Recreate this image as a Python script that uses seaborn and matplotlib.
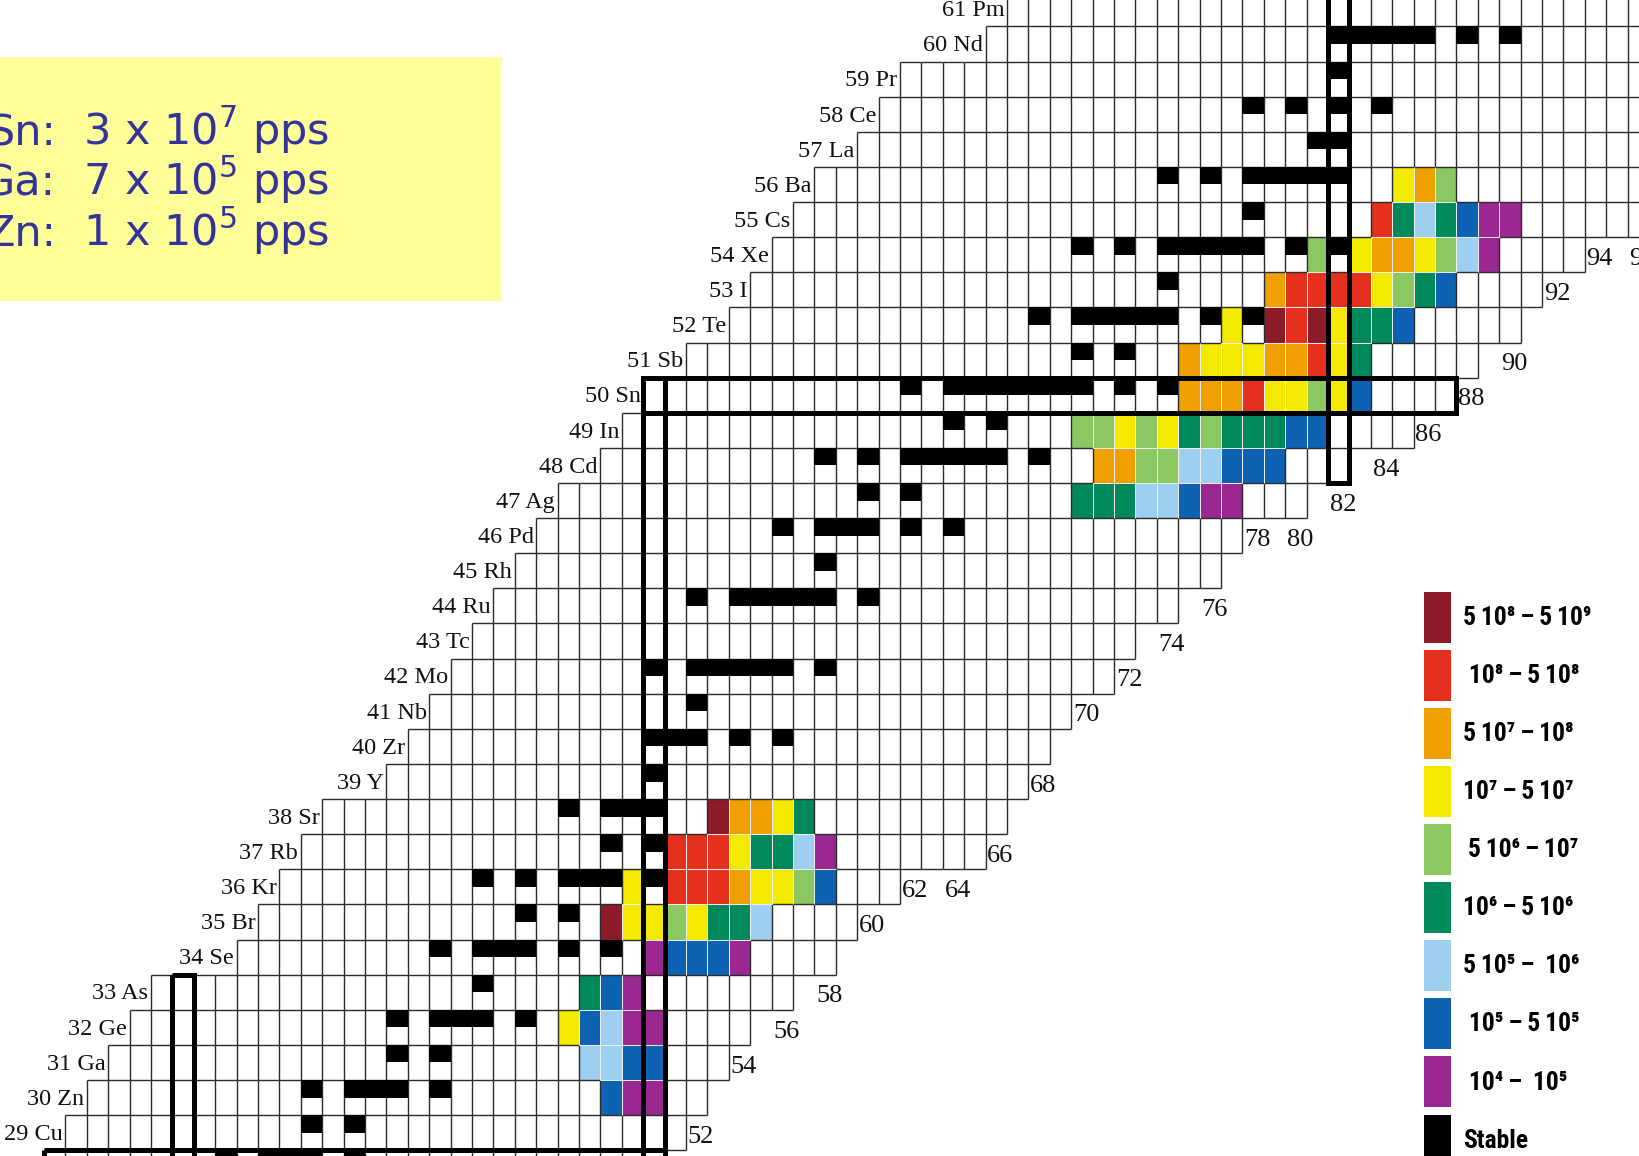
import numpy as np
import pandas as pd
import matplotlib
matplotlib.use("Agg")
import matplotlib.pyplot as plt
from matplotlib.colors import ListedColormap
from matplotlib.patches import Rectangle, Patch
from matplotlib.collections import LineCollection
from matplotlib.font_manager import FontProperties
import seaborn as sns

# ---- elements shown (proton number, symbol) and neutron range of each row ----
z_values = list(range(28, 62))
symbols = ["Ni", "Cu", "Zn", "Ga", "Ge", "As", "Se", "Br", "Kr", "Rb", "Sr", "Y",
           "Zr", "Nb", "Mo", "Tc", "Ru", "Rh", "Pd", "Ag", "Cd", "In", "Sn", "Sb",
           "Te", "I", "Xe", "Cs", "Ba", "La", "Ce", "Pr", "Nd", "Pm"]
n_first = [22, 23, 24, 25, 26, 27, 31, 32, 33, 34, 35, 38, 39, 40, 41, 42, 43,
           44, 45, 46, 48, 49, 50, 52, 54, 55, 56, 57, 58, 60, 61, 62, 66, 67]
n_last = [50, 51, 52, 53, 54, 56, 58, 59, 61, 65, 66, 67, 68, 69, 71, 72, 74,
          76, 77, 80, 82, 85, 87, 88, 90, 91, 93, 97, 97, 97, 97, 97, 97, 97]

# ---- stable isotopes (neutron numbers) ----
stable_n = {
    28: [30, 32, 33, 34, 36], 29: [34, 36], 30: [34, 36, 37, 38, 40], 31: [38, 40],
    32: [38, 40, 41, 42, 44], 33: [42], 34: [40, 42, 43, 44, 46, 48], 35: [44, 46],
    36: [42, 44, 46, 47, 48, 50], 37: [48, 50], 38: [46, 48, 49, 50], 39: [50],
    40: [50, 51, 52, 54, 56], 41: [52], 42: [50, 52, 53, 54, 55, 56, 58],
    44: [52, 54, 55, 56, 57, 58, 60], 45: [58], 46: [56, 58, 59, 60, 62, 64],
    47: [60, 62], 48: [58, 60, 62, 63, 64, 65, 66, 68], 49: [64, 66],
    50: [62, 64, 65, 66, 67, 68, 69, 70, 72, 74], 51: [70, 72],
    52: [68, 70, 71, 72, 73, 74, 76, 78], 53: [74],
    54: [70, 72, 74, 75, 76, 77, 78, 80, 82], 55: [78],
    56: [74, 76, 78, 79, 80, 81, 82], 57: [81, 82], 58: [78, 80, 82, 84],
    59: [82], 60: [82, 83, 84, 85, 86, 88, 90],
}

# ---- yield classes (pps), first neutron number of each run ("-" = no yield) ----
yield_rows = {
    30: (48, "B P P"),
    31: (47, "LB LB B B"),
    32: (46, "Y B LB P P"),
    33: (47, "G B P"),
    34: (50, "P B B B P"),
    35: (48, "DR Y Y LG Y G G LB"),
    36: (49, "Y - R R R O Y Y LG B"),
    37: (51, "R R R Y G G LB P"),
    38: (53, "DR O O Y G"),
    47: (70, "G G G LB LB B P P"),
    48: (71, "O O LG LG LB LB B B B"),
    49: (70, "LG LG Y LG Y G LG G G G B B"),
    50: (75, "O O O R Y Y LG Y B"),
    51: (75, "O Y Y Y O O R Y G"),
    52: (77, "Y - DR R DR Y G G B"),
    53: (79, "O R R R R Y LG G B"),
    54: (81, "LG - Y O O Y LG LB P"),
    55: (84, "R G LB G B P P"),
    56: (85, "Y O LG"),
}

class_codes = ["P", "B", "LB", "G", "LG", "Y", "O", "R", "DR"]
class_colors = ["#9A2890", "#0E62B3", "#9ECEF0", "#00895A", "#8CC862",
                "#F4E900", "#F0A000", "#E6301E", "#8E1B2A"]
ts = "\u2009"
class_labels = [f" 10\u2074{ts}\u2013{ts} 10\u2075",
                f" 10\u2075{ts}\u2013{ts}5{ts}10\u2075",
                f"5{ts}10\u2075{ts}\u2013{ts} 10\u2076",
                f"10\u2076{ts}\u2013{ts}5{ts}10\u2076",
                f"{ts}5{ts}10\u2076{ts}\u2013{ts}10\u2077",
                f"10\u2077{ts}\u2013{ts}5{ts}10\u2077",
                f"5{ts}10\u2077{ts}\u2013{ts}10\u2078",
                f" 10\u2078{ts}\u2013{ts}5{ts}10\u2078",
                f"5{ts}10\u2078{ts}\u2013{ts}5{ts}10\u2079"]

# magic-number shells: (Z, N from, N to) and (N, Z from, Z to)
magic_rows = [(28, 22, 50), (50, 50, 87)]
magic_cols = [(28, 28, 33), (50, 28, 50), (82, 48, 61)]

# neutron numbers written along the lower edge of the chart
n_labels = list(range(52, 97, 2))

# beam intensities
beam_names = ["Sn:", "Ga:", "Zn:"]
beam_mantissa = [3, 7, 1]
beam_exponent = [7, 5, 5]

# ---- build the chart grid ----
n_cols = np.arange(22, 98)
grid = pd.DataFrame(np.nan, index=z_values[::-1], columns=n_cols)
for z, a, b in zip(z_values, n_first, n_last):
    grid.loc[z, a:b] = 0
for z, (start, seq) in yield_rows.items():
    for k, code in enumerate(seq.split()):
        if code != "-":
            grid.loc[z, start + k] = class_codes.index(code) + 1

cmap = ListedColormap(["white"] + class_colors)

W, H = 1639, 1156
fig = plt.figure(figsize=(W / 100, H / 100), dpi=100)
ax = fig.add_axes([0, 0, 1, 1])
sns.heatmap(grid, ax=ax, cmap=cmap, vmin=-0.5, vmax=len(class_codes) + 0.5,
            cbar=False, linewidths=0, xticklabels=False, yticklabels=False)
ax.set_xlim(-2.056, 74.53)
ax.set_ylim(33.163, 0.247)
ax.set_axis_off()


def col(n):
    return grid.columns.get_loc(n)


def row(z):
    return grid.index.get_loc(z)


# cell borders: dark around plain cells, light between two coloured cells
vals = grid.to_numpy()
exists = ~np.isnan(vals)
colored = np.nan_to_num(vals) > 0
nr, nc = vals.shape
ex = np.pad(exists, 1)
co = np.pad(colored, 1)
dark, light = [], []
for i in range(nr):
    for j in range(nc + 1):
        if ex[i + 1, j] or ex[i + 1, j + 1]:
            seg = [(j, i), (j, i + 1)]
            (light if co[i + 1, j] and co[i + 1, j + 1] else dark).append(seg)
for i in range(nr + 1):
    for j in range(nc):
        if ex[i, j + 1] or ex[i + 1, j + 1]:
            seg = [(j, i), (j + 1, i)]
            (light if co[i, j + 1] and co[i + 1, j + 1] else dark).append(seg)
ax.add_collection(LineCollection(dark, colors="#2a2a2a", linewidths=1.0, zorder=2))
ax.add_collection(LineCollection(light, colors="#f2f2f2", linewidths=0.7, zorder=2))

# stable isotopes drawn as black bars in the upper part of each cell
xs, tops = [], []
for z, ns in stable_n.items():
    for n in ns:
        xs.append(col(n) + 0.5)
        tops.append(row(z))
ax.bar(xs, 0.5, width=1.0, bottom=tops, color="black", linewidth=0, zorder=3)

# magic-number boxes
for z, na, nb in magic_rows:
    ax.add_patch(Rectangle((col(na), row(z)), nb - na + 1, 1, fill=False,
                           edgecolor="black", linewidth=3.6, zorder=5,
                           joinstyle="miter"))
for n, za, zb in magic_cols:
    ax.add_patch(Rectangle((col(n), row(zb)), 1, zb - za + 1, fill=False,
                           edgecolor="black", linewidth=3.6, zorder=5,
                           joinstyle="miter"))

# element labels at the left end of each row
for z, sym, a in zip(z_values, symbols, n_first):
    ax.text(col(a) - 0.12, row(z) + 0.55, f"{z} {sym}", ha="right", va="center",
            fontsize=17.5, family="Liberation Serif", color="#111111", zorder=6)

# neutron numbers below the lowest cell of each column
for n in n_labels:
    z_low = next(z for z, a, b in zip(z_values, n_first, n_last) if a <= n <= b)
    ax.text(col(n) + 0.08, row(z_low - 1) + 0.62, str(n), ha="left", va="center",
            fontsize=19, family="Liberation Serif", color="#111111", zorder=6)

# legend of yield classes; font size chosen so the widest entry spans ~128 px
leg_prop = FontProperties(family=["Roboto Condensed", "Liberation Sans Narrow",
                                  "Roboto", "DejaVu Sans"],
                          weight="bold", size=20)
probe = fig.text(0, 0, class_labels[-1], fontproperties=leg_prop)
renderer = fig.canvas.get_renderer()
probe_w = probe.get_window_extent(renderer).width
probe.remove()
fs = min(23.0, 20 * 128 / probe_w)
leg_prop.set_size(fs)
fs_px = fs * 100 / 72

# swatch geometry in pixels: 27 x 51 squares on a 58 px pitch
sw_w, sw_h, pitch = 27.0, 51.0, 58.1
hh = (sw_h - 0.245 * fs_px) / (0.65 * fs_px)

handles = [Patch(facecolor=c, edgecolor="none") for c in class_colors[::-1]]
handles.append(Patch(facecolor="black", edgecolor="none"))
labels = class_labels[::-1] + ["Stable"]
ax.legend(handles, labels, loc="upper left",
          bbox_to_anchor=(1423.7 / W, 1 - 591.6 / H), bbox_transform=fig.transFigure,
          frameon=False, borderpad=0, borderaxespad=0,
          handlelength=sw_w / fs_px, handleheight=hh,
          labelspacing=(pitch - sw_h) / fs_px, handletextpad=12 / fs_px,
          prop=leg_prop)

# beam intensity box
fig.add_artist(Rectangle((0, 1 - 301 / H), 502 / W, (301 - 57) / H,
                         transform=fig.transFigure, facecolor="#FFFF99",
                         edgecolor="none", zorder=1))
baselines = [145, 195, 246]
for name, m, e, yb in zip(beam_names, beam_mantissa, beam_exponent, baselines):
    fig.text(56 / W, 1 - yb / H, name, ha="right", va="baseline", fontsize=31,
             family="DejaVu Sans", color="#333399", zorder=2)
    fig.text(83 / W, 1 - yb / H, f"{m} x 10$^{{{e}}}$ pps", ha="left",
             va="baseline", fontsize=31, family="DejaVu Sans", color="#333399",
             zorder=2)

fig.savefig("out.png", dpi=100)
